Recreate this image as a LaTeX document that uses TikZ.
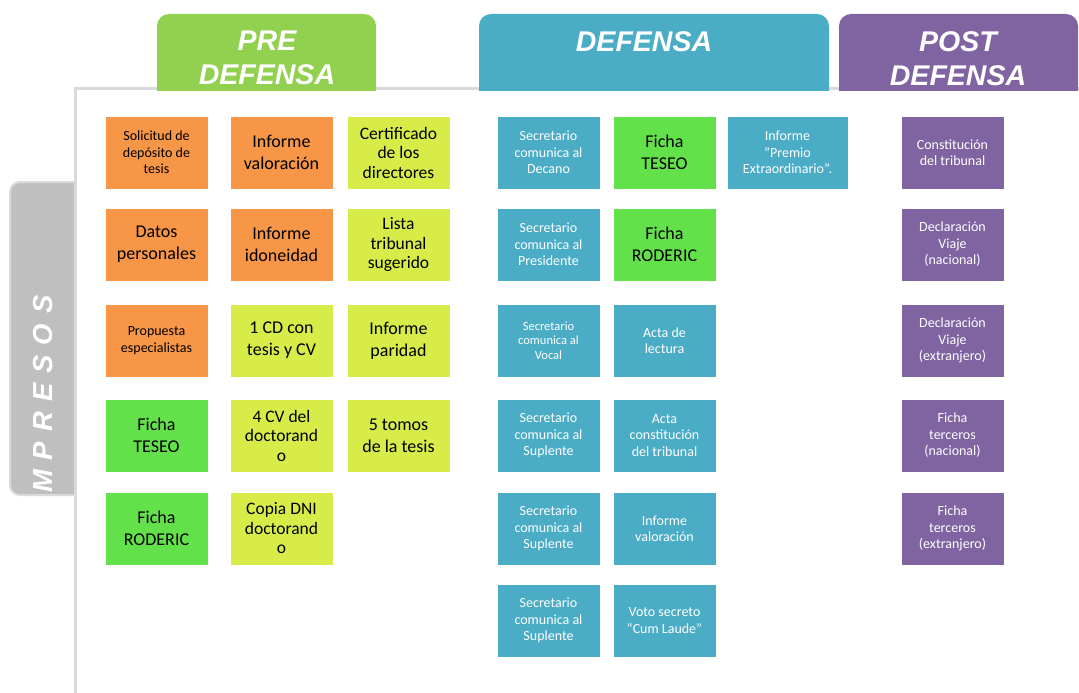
\documentclass[tikz,border=0pt]{standalone}
\usepackage{fontspec}
\setmainfont{Carlito}
\newfontfamily\headfont{Liberation Sans}
\definecolor{hdgreen}{HTML}{92D050}
\definecolor{hdblue}{HTML}{4BACC6}
\definecolor{hdpurple}{HTML}{8064A2}
\definecolor{docorange}{HTML}{F79646}
\definecolor{doclime}{HTML}{D7EC48}
\definecolor{docgreen}{HTML}{63E14B}
\definecolor{tabgray}{HTML}{BFBFBF}
\definecolor{framegray}{HTML}{DADADA}
\tikzset{
  doc/.style={rectangle, minimum width=103pt, minimum height=73pt, inner sep=1pt,
    align=center, draw=white, line width=0.8pt},
  orangedoc/.style={doc, fill=docorange, text=black},
  limedoc/.style={doc, fill=doclime, text=black},
  greendoc/.style={doc, fill=docgreen, text=black},
  bluedoc/.style={doc, fill=hdblue, text=white},
  purpledoc/.style={doc, fill=hdpurple, text=white},
  bigtxt/.style={font=\fontsize{18}{22}\selectfont},
  bigtight/.style={font=\fontsize{17.5}{19.5}\selectfont},
  midtxt/.style={font=\fontsize{14}{16.5}\selectfont},
  smalltxt/.style={font=\fontsize{12.5}{14.5}\selectfont},
  headtxt/.style={font=\headfont\bfseries\itshape\fontsize{28.5}{34}\selectfont,
    text=white, align=center, inner sep=0pt, anchor=north},
  tabtxt/.style={font=\headfont\bfseries\itshape\fontsize{27.5}{30}\selectfont,
    text=white, inner sep=0pt},
}

\begin{document}
\begin{tikzpicture}[x=1pt,y=-1pt]
\useasboundingbox (0,0) rectangle (1079,693);

\draw[draw=framegray, line width=2pt, fill=tabgray, rounded corners=10pt] (10,182) rectangle (110,495);
\begin{scope}
\clip (10,182) rectangle (74,494);
\node[tabtxt, rotate=90] (impresos) at (43,403)
  {I\kern10pt M\kern10pt P\kern10pt R\kern10pt E\kern10pt S\kern10pt O\kern10pt S};
\end{scope}

\fill[white] (76,89) rectangle (1079,693);
\draw[framegray, line width=3pt] (75,693) -- (75,88) -- (1079,88);

\begin{scope}
\clip (0,0) rectangle (1079,90);
\fill[hdgreen, rounded corners=12pt] (157,14) rectangle (376,120);
\fill[hdblue, rounded corners=12pt] (479,14) rectangle (829,120);
\fill[hdpurple, rounded corners=12pt] (839,14) rectangle (1078,120);
\end{scope}
\node[headtxt] (pretxt) at (267,31) {PRE\\DEFENSA};
\node[headtxt] (deftxt) at (644,31) {DEFENSA};
\node[headtxt] (posttxt) at (958,31) {POST\\DEFENSA};

\node[orangedoc, midtxt] (solicitud) at (156.5,152.5) {Solicitud de\\depósito de\\tesis};
\node[orangedoc, bigtxt] (infval) at (281.5,152.5) {Informe\\valoración};
\node[limedoc, bigtight] (certif) at (398.5,152.5) {Certificado\\de los\\directores};
\node[orangedoc, bigtxt] (datos) at (156.5,244.5) {Datos\\personales};
\node[orangedoc, bigtxt] (infidon) at (281.5,244.5) {Informe\\idoneidad};
\node[limedoc, bigtight] (lista) at (398.5,244.5) {Lista\\tribunal\\sugerido};
\node[orangedoc, midtxt] (propuesta) at (156.5,340.5) {Propuesta\\especialistas};
\node[limedoc, bigtxt] (cd) at (281.5,340.5) {1 CD con\\tesis y CV};
\node[limedoc, bigtxt] (paridad) at (398.5,340.5) {Informe\\paridad};
\node[greendoc, bigtxt] (teseopre) at (156.5,435.5) {Ficha\\TESEO};
\node[limedoc, bigtight] (cvdoc) at (281.5,435.5) {4 CV del\\doctorand\\o};
\node[limedoc, bigtxt] (tomos) at (398.5,435.5) {5 tomos\\de la tesis};
\node[greendoc, bigtxt] (rodericpre) at (156.5,528.5) {Ficha\\RODERIC};
\node[limedoc, bigtight] (dni) at (281.5,528.5) {Copia DNI\\doctorand\\o};

\node[bluedoc, midtxt] (decano) at (548.5,152.5) {Secretario\\comunica al\\Decano};
\node[greendoc, bigtxt] (teseodef) at (664.5,152.5) {Ficha\\TESEO};
\node[bluedoc, midtxt, minimum width=121pt] (premio) at (787.5,152.5) {Informe\\”Premio\\Extraordinario”.};
\node[bluedoc, midtxt] (presidente) at (548.5,244.5) {Secretario\\comunica al\\Presidente};
\node[greendoc, bigtxt] (rodericdef) at (664.5,244.5) {Ficha\\RODERIC};
\node[bluedoc, smalltxt] (vocal) at (548.5,340.5) {Secretario\\comunica al\\Vocal};
\node[bluedoc, midtxt] (lectura) at (664.5,340.5) {Acta de\\lectura};
\node[bluedoc, midtxt] (suplentea) at (548.5,435.5) {Secretario\\comunica al\\Suplente};
\node[bluedoc, midtxt] (actacons) at (664.5,435.5) {Acta\\constitución\\del tribunal};
\node[bluedoc, midtxt] (suplenteb) at (548.5,528.5) {Secretario\\comunica al\\Suplente};
\node[bluedoc, midtxt] (valdef) at (664.5,528.5) {Informe\\valoración};
\node[bluedoc, midtxt] (suplentec) at (548.5,620.5) {Secretario\\comunica al\\Suplente};
\node[bluedoc, midtxt] (voto) at (664.5,620.5) {Voto secreto\\“Cum Laude”};

\node[purpledoc, midtxt] (constit) at (952.5,152.5) {Constitución\\del tribunal};
\node[purpledoc, midtxt] (viajenac) at (952.5,244.5) {Declaración\\Viaje\\(nacional)};
\node[purpledoc, midtxt] (viajeext) at (952.5,340.5) {Declaración\\Viaje\\(extranjero)};
\node[purpledoc, midtxt] (tercnac) at (952.5,435.5) {Ficha\\terceros\\(nacional)};
\node[purpledoc, midtxt] (tercext) at (952.5,528.5) {Ficha\\terceros\\(extranjero)};
\end{tikzpicture}
\end{document}
